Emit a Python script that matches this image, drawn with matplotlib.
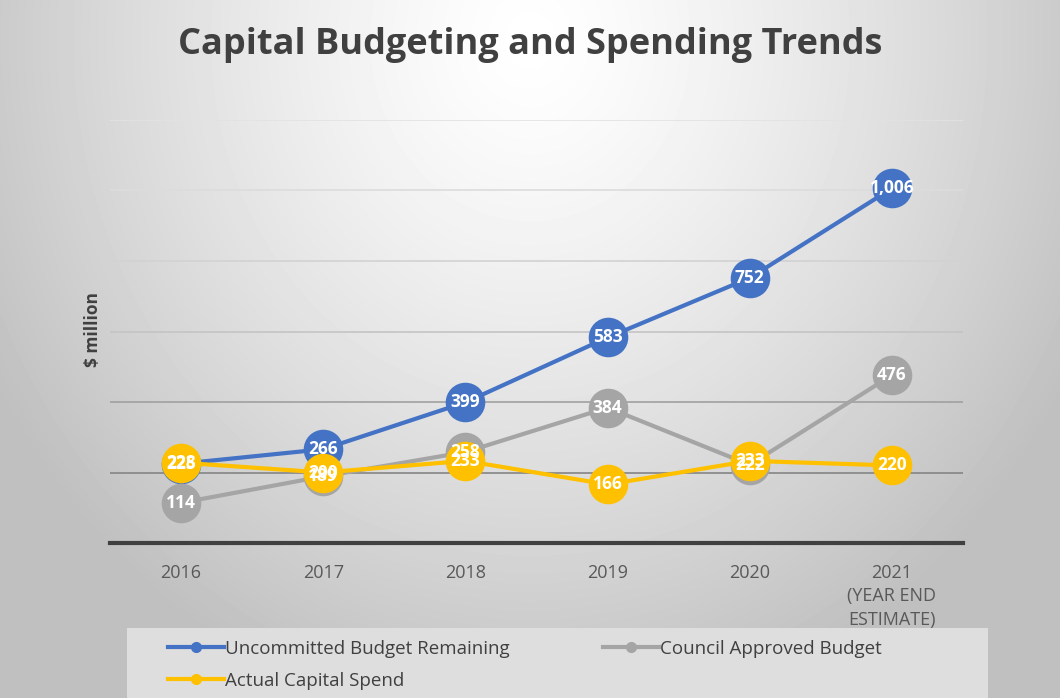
import numpy as np
import matplotlib.pyplot as plt
from matplotlib.lines import Line2D
from matplotlib.patches import Rectangle

plt.rcParams['font.family'] = ['Open Sans', 'DejaVu Sans']

# data
years = ['2016', '2017', '2018', '2019', '2020', '2021\n(YEAR END\nESTIMATE)']
uncommitted = [225, 266, 399, 583, 752, 1006]
council = [114, 189, 258, 384, 222, 476]
actual = [228, 200, 233, 166, 233, 220]

series_names = ['Uncommitted Budget Remaining', 'Council Approved Budget', 'Actual Capital Spend']
series_vals = [uncommitted, council, actual]
colors = ['#4472C4', '#A5A5A5', '#FFC000']

fig = plt.figure(figsize=(10.6, 6.98), dpi=100)

# radial grey background
bg = fig.add_axes([0, 0, 1, 1], zorder=-10)
yy, xx = np.mgrid[0:698, 0:1060]
r = np.sqrt(((xx - 530) / 620.0) ** 2 + ((yy - 40) / 700.0) ** 2)
shade = np.clip(1.0 - 0.25 * r ** 1.3, 0.75, 1.0)
bg.imshow(shade, cmap='gray', vmin=0, vmax=1, aspect='auto', interpolation='bilinear')
bg.axis('off')

ax = fig.add_axes([110 / 1060, 1 - 543 / 698, 853 / 1060, 423 / 698])
ax.set_facecolor('none')
x = np.arange(len(years))

# gridlines get darker towards the bottom, like the original
grid_cols = {200: '#858585', 400: '#A0A0A0', 600: '#C4C4C4', 800: '#D2D2D2', 1000: '#DCDCDC', 1200: '#E2E2E2'}
for v, c in grid_cols.items():
    ax.axhline(v, color=c, lw=1.2, zorder=0)
ax.axhline(0, color='#404040', lw=3, zorder=1, clip_on=False)

for vals, col in zip(series_vals, colors):
    ax.plot(x, vals, color=col, lw=3, marker='o', markersize=28.5,
            markeredgewidth=0, zorder=3, solid_capstyle='round')

for vals in series_vals:
    for xi, v in zip(x, vals):
        ax.text(xi, v, f'{v:,}', ha='center', va='center', color='white',
                fontsize=12.5, fontweight='bold', zorder=5)

ax.set_xlim(-0.5, len(years) - 0.5)
ax.set_ylim(0, 1200)
ax.set_yticks([])
ax.set_xticks(x)
ax.set_xticklabels(years, fontsize=13, color='#595959', linespacing=1.4)
ax.tick_params(axis='x', length=0, pad=15)
for s in ax.spines.values():
    s.set_visible(False)

fig.text(0.5, 1 - 45 / 698, 'Capital Budgeting and Spending Trends', ha='center', va='center',
         fontsize=26, fontweight='bold', color='#404040')
fig.text(93 / 1060, 1 - 330 / 698, '$ million', rotation=90, ha='center', va='center',
         fontsize=12.5, fontweight='bold', color='#404040')

# legend panel
fig.patches.append(Rectangle((127 / 1060, 0), 861 / 1060, 70 / 698, transform=fig.transFigure,
                             facecolor='#DEDEDE', edgecolor='none', zorder=-5))
handles = [Line2D([0], [0], color=c, lw=3, marker='o', markersize=7) for c in colors]
# legend fills column by column, so reorder to get blue/grey on row one
order = [0, 2, 1]
fig.legend([handles[i] for i in order], [series_names[i] for i in order],
           loc='upper left', bbox_to_anchor=(160 / 1060, 1 - 632 / 698),
           ncol=2, frameon=False, fontsize=13.5, handlelength=3.0, handletextpad=0.05,
           columnspacing=5.0, labelcolor='#404040', borderaxespad=0, labelspacing=0.75)

fig.savefig('out.png', dpi=100)
